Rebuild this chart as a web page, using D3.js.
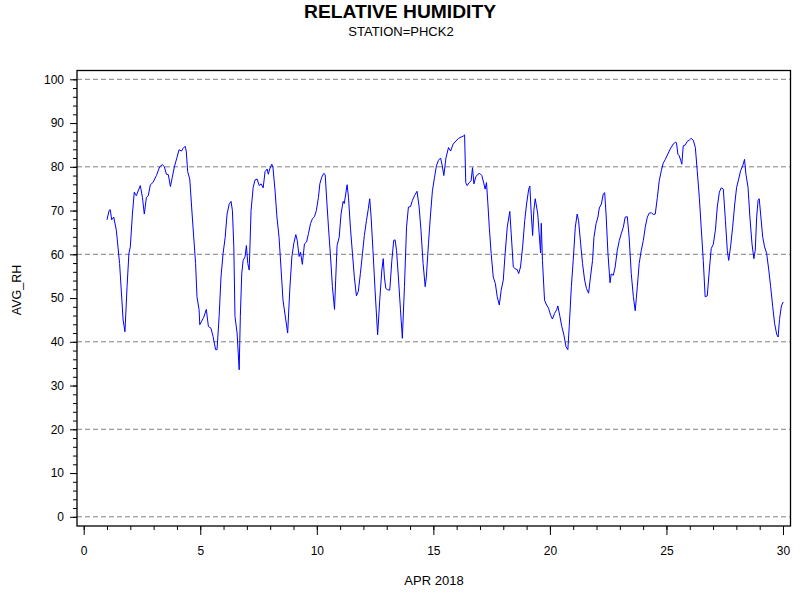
<!DOCTYPE html>
<html>
<head>
<meta charset="utf-8">
<script src="https://cdn.jsdelivr.net/npm/d3@7"></script>
<style>
  body { margin: 0; background: #fff; }
  text { font-family: "Liberation Sans", Arial, sans-serif; fill: #000; }
</style>
</head>
<body>
<div id="chart"></div>
<script>
// chart text
var chartTitle = "RELATIVE HUMIDITY";
var chartSubtitle = "STATION=PHCK2";
var xLabel = "APR 2018";
var yLabel = "AVG_RH";

// ticks
var xMajorTicks = [0, 5, 10, 15, 20, 25, 30];
var yMajorTicks = [0, 10, 20, 30, 40, 50, 60, 70, 80, 90, 100];
var gridValues = [0, 20, 40, 60, 80, 100];

// day of month (fractional) and average relative humidity
var dayOfMonth = [
  1.0,1.09,1.14,1.2,1.29,1.40,1.54,1.69,1.77,1.86,1.94,2.0,2.09,2.17,2.26,2.35,2.43,2.52,2.60,2.69,
  2.77,2.86,2.97,3.12,3.26,3.38,3.46,3.55,3.63,3.72,3.80,3.89,4.0,4.09,4.20,4.26,4.35,4.40,4.46,4.55,
  4.63,4.72,4.80,4.86,4.95,4.98,5.06,5.15,5.26,5.35,5.46,5.55,5.66,5.72,5.81,5.89,5.98,6.07,6.15,6.24,
  6.32,6.38,6.44,6.49,6.58,6.67,6.72,6.78,6.84,6.92,6.98,7.04,7.10,7.18,7.27,7.35,7.44,7.53,7.61,7.70,
  7.78,7.87,7.92,7.98,
  8.07,8.12,8.21,8.29,8.38,8.47,8.55,8.67,8.75,8.84,8.93,9.01,9.10,9.16,9.24,9.30,9.38,9.47,9.56,9.64,
  9.73,9.81,9.90,9.98,10.07,10.13,10.21,10.30,10.36,10.41,10.50,10.59,10.67,10.76,10.81,10.87,10.96,11.04,11.13,11.18,
  11.24,11.30,11.36,11.44,11.53,11.61,11.70,11.78,11.87,11.96,12.04,12.13,12.21,12.27,12.33,12.41,12.50,12.61,12.70,12.79,
  12.85,12.90,12.96,13.04,13.13,13.22,13.30,13.36,13.42,13.50,13.59,13.67,13.76,13.85,13.93,14.02,14.10,14.19,14.30,14.39,
  14.47,14.56,14.65,14.70,14.79,14.88,14.96,15.05,15.13,15.22,
  15.31,15.37,15.45,15.54,15.65,15.74,15.85,15.97,16.08,16.19,16.28,16.34,16.39,16.45,16.54,16.62,16.68,16.74,16.82,16.91,
  16.99,17.08,17.17,17.22,17.28,17.34,17.40,17.48,17.57,17.66,17.74,17.83,17.91,18.00,18.08,18.17,18.28,18.34,18.43,18.51,
  18.60,18.66,18.74,18.83,18.92,19.00,19.09,19.14,19.20,19.26,19.31,19.37,19.43,19.48,19.54,19.60,19.63,19.68,19.77,19.86,
  19.94,20.03,20.11,20.20,20.29,20.34,20.43,20.51,20.60,20.69,20.77,20.83,20.92,21.00,21.09,21.17,21.23,21.32,21.40,21.49,
  21.57,21.66,21.74,21.83,21.89,21.98,22.06,22.12,22.21,22.29,22.35,22.41,22.49,22.58,
  22.63,22.72,22.80,22.89,22.98,23.06,23.15,23.23,23.32,23.40,23.49,23.58,23.66,23.75,23.83,23.92,24.01,24.09,24.18,24.26,
  24.35,24.44,24.52,24.61,24.69,24.78,24.86,24.95,25.04,25.12,25.21,25.29,25.38,25.43,25.49,25.55,25.61,25.66,25.72,25.81,
  25.89,25.98,26.06,26.15,26.24,26.32,26.41,26.49,26.58,26.66,26.75,26.84,26.92,27.01,27.10,27.18,27.27,27.35,27.44,27.53,
  27.61,27.67,27.75,27.84,27.93,28.01,28.10,28.18,28.27,28.35,28.41,28.50,28.58,28.67,28.75,28.81,28.87,28.93,28.98,29.04,
  29.13,29.21,29.30,29.39,29.47,29.56,29.64,29.73,29.79,29.85,29.93,30.01
];
var avgRh = [
  67.9,70,70.2,67.9,68.5,65.5,57.9,45,42.3,52.6,60.2,61.7,69.2,74.2,73.4,74.7,75.7,73,69.2,73,
  73.4,75.9,76.4,78,80,80.5,80,78.3,78.2,75.5,77.6,80,82.1,83.9,83.6,84.2,84.7,83.6,78.9,77.2,
  70.8,63.9,57.9,50.3,47.3,43.9,44.7,45.6,47.4,43.5,43.1,41.2,38.2,38.2,45.8,54.8,60.2,63.9,69.2,71.4,
  72.1,70,61.7,45.8,42,33.6,45.8,55.6,58.6,59.4,62,57.9,56.4,70,75.3,77,77.2,75.7,76.1,75.2,
  78.9,79.5,78.3,79.5,
  80.6,79.8,74.5,68.5,63.9,56.4,49.5,45,42,51.8,59.4,62.4,64.5,63.2,59.5,60.5,57.7,62.4,62.8,64.7,
  67,68.1,68.6,70,73,76.1,77.6,78.5,78.2,73.8,66.2,59.4,52.6,47.4,54.1,62,63.9,69.2,72.1,71.6,
  73.8,75.9,73,66.2,60.2,54.8,50.5,51.5,55.6,60.2,64.3,67.7,70.4,72.7,68.5,60.9,51.8,41.6,49.5,56.4,
  59,54.8,52.2,51.9,51.8,58.6,63.2,63.3,60.9,54.8,47.3,40.8,52.6,66.2,70.8,70.9,72.3,73.4,74.4,70.8,
  65.5,57.9,52.6,54.8,62.4,69.2,74.5,77.6,80.2,81.5,
  82,80.6,78,82,84.4,83.6,85.2,85.9,86.5,86.8,87,87.3,76.4,75.7,76.4,76.8,79.8,76.1,77.7,78.3,
  78.5,78,76.1,74.9,76.4,71.5,66.2,60.2,54.8,53.3,50.3,48.4,51.8,54.1,60.2,66.2,69.8,64.7,57.1,56.7,
  56.5,55.6,57.1,61.7,67.7,71.5,74.9,75.6,69.2,64.3,70,72.7,70.8,69.2,64.7,60.3,67.1,58.6,49.5,48.4,
  47.7,46.1,45.2,46.5,47.3,48.2,45.8,43.5,41.6,38.9,38.2,43.5,52.6,58.6,66.2,69.2,67.7,62.4,57.9,54.1,
  52.2,51.1,54.8,58.6,63.9,67,68.5,70.6,71.5,73.8,74.1,69.2,60.2,53.5,
  55.5,55.2,57.1,60.9,63.2,64.7,66.2,68.5,68.6,63.9,55.6,50.3,47.1,52.6,57.9,60.9,63.2,66.2,68.5,69.4,
  69.5,69.1,69.2,73,76.8,79.1,80.8,81.7,82.7,83.6,84.5,85.2,85.6,85.5,82.9,82.5,81.5,80.6,84.8,85,
  85.8,86.1,86.5,86.1,84.4,79.1,73,66.2,58.6,50.3,50.5,56.4,61.3,62.3,65.5,70.8,74.2,75.2,74.9,67.7,
  60.9,58.6,61.7,66.2,71.5,75.3,77.2,79.1,80.2,81.7,78.3,75.3,68.5,62.4,59,60.9,68.5,72.3,72.7,69.2,
  63.9,61.7,60.2,56.4,52.6,48,44.2,41.7,41.1,45.1,48.2,49.1
];

var svgWidth = 800;
var svgHeight = 600;

// plot frame
var frame = {left: 77, top: 70.5, right: 790.5, bottom: 526};

var svg = d3.select("#chart")
  .append("svg")
  .attr("width", svgWidth)
  .attr("height", svgHeight);

svg.append("rect")
  .attr("width", svgWidth)
  .attr("height", svgHeight)
  .attr("fill", "#fff");

var xScale = d3.scaleLinear()
  .domain([0, 30])
  .range([83.7, 783]);

var yScale = d3.scaleLinear()
  .domain([0, 100])
  .range([516.8, 79.3]);

// dashed reference lines
svg.append("g")
  .selectAll("line")
  .data(gridValues)
  .enter().append("line")
  .attr("x1", frame.left)
  .attr("x2", frame.right)
  .attr("y1", d => yScale(d))
  .attr("y2", d => yScale(d))
  .attr("stroke", "#808080")
  .attr("stroke-dasharray", "5,3");

// y axis: minor ticks every 2, major ticks every 10
svg.append("g")
  .attr("transform", `translate(${frame.left},0)`)
  .call(d3.axisLeft(yScale).tickValues(d3.range(0, 101, 2)).tickSize(4).tickFormat(""))
  .call(g => g.select(".domain").remove());

svg.append("g")
  .attr("transform", `translate(${frame.left},0)`)
  .call(d3.axisLeft(yScale).tickValues(yMajorTicks).tickSize(7).tickPadding(6))
  .call(g => g.select(".domain").remove())
  .selectAll("text")
  .attr("font-size", "12px")
  .attr("font-family", "'Liberation Sans', Arial, sans-serif");

// x axis: minor ticks every day, major ticks every 5
svg.append("g")
  .attr("transform", `translate(0,${frame.bottom})`)
  .call(d3.axisBottom(xScale).tickValues(d3.range(0, 31, 1)).tickSize(4).tickFormat(""))
  .call(g => g.select(".domain").remove());

svg.append("g")
  .attr("transform", `translate(0,${frame.bottom})`)
  .call(d3.axisBottom(xScale).tickValues(xMajorTicks).tickSize(9).tickPadding(11))
  .call(g => g.select(".domain").remove())
  .selectAll("text")
  .attr("font-size", "12px")
  .attr("font-family", "'Liberation Sans', Arial, sans-serif");

svg.selectAll(".tick line").attr("stroke", "#000");

// humidity line
var lineData = dayOfMonth.map((d, i) => ({day: d, rh: avgRh[i]}));
var rhLine = d3.line()
  .x(d => xScale(d.day))
  .y(d => yScale(d.rh));

svg.append("path")
  .datum(lineData)
  .attr("d", rhLine)
  .attr("fill", "none")
  .attr("stroke", "#0000ff")
  .attr("stroke-width", 1);

// frame on top
svg.append("rect")
  .attr("x", frame.left)
  .attr("y", frame.top)
  .attr("width", frame.right - frame.left)
  .attr("height", frame.bottom - frame.top)
  .attr("fill", "none")
  .attr("stroke", "#000")
  .attr("stroke-width", 1.3);

// titles
svg.append("text")
  .attr("x", 400)
  .attr("y", 18)
  .attr("text-anchor", "middle")
  .attr("font-size", "18px")
  .attr("font-weight", "bold")
  .attr("textLength", 192)
  .attr("lengthAdjust", "spacingAndGlyphs")
  .text(chartTitle);

svg.append("text")
  .attr("x", 401)
  .attr("y", 36)
  .attr("text-anchor", "middle")
  .attr("font-size", "13px")
  .text(chartSubtitle);

svg.append("text")
  .attr("x", 434)
  .attr("y", 585)
  .attr("text-anchor", "middle")
  .attr("font-size", "13px")
  .text(xLabel);

svg.append("text")
  .attr("transform", "translate(20.7,290) rotate(-90)")
  .attr("text-anchor", "middle")
  .attr("font-size", "12.5px")
  .text(yLabel);
</script>
</body>
</html>
